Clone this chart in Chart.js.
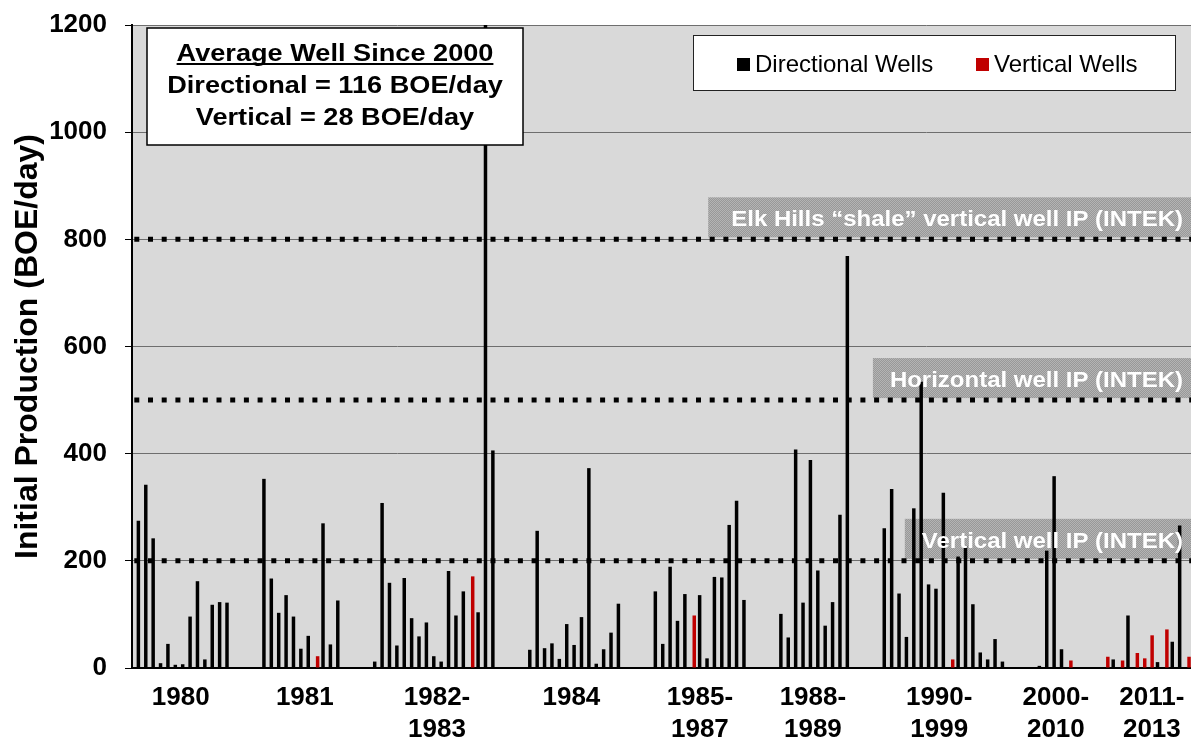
<!DOCTYPE html>
<html>
<head>
<meta charset="utf-8">
<script src="https://cdn.jsdelivr.net/npm/chart.js@4.4.1/dist/chart.umd.min.js"></script>
<style>
  html, body { margin: 0; padding: 0; background: #fff; }
</style>
</head>
<body>
<canvas id="wellChart" width="1191" height="738"></canvas>
<script>
// initial production per well, BOE/day, one slot per well (null = no directional well)
const directional = [
    275, 342, 242, 9, 45, 6, 7, 96, 162, 16, 118, 123, 122,
    null, null, null, null,
    353, 167, 103, 136, 96, 36, 60, null, 270, 44, 126,
    null, null, null, null,
    12, 308, 159, 42, 168, 93, 59, 85, 22, 12, 181, 98, 143, null, 104, 1250, 406,
    null, null, null, null,
    34, 256, 37, 46, 17, 82, 43, 95, 373, 8, 35, 66, 120,
    null, null, null, null,
    143, 45, 189, 88, 138, null, 136, 18, 170, 169, 267, 312, 127,
    null, null, null, null,
    101, 57, 408, 122, 388, 182, 79, 123, 286, 769,
    null, null, null, null,
    261, 334, 139, 58, 298, 534, 156, 148, 327, null, 208, 228, 119, 29, 16, 54, 12,
    null, null, null, null,
    4, 219, 358, 35,
    null, null, null, null, null, null,
    16, null, 98, null, null, null, 11, null, 49, 266, null
];

// vertical wells: slot and value
const verticalSlots = [24, 45, 75, 110, 126, 131, 133, 135, 136, 137, 139, 142];
const verticalIP = [22, 171, 98, 16, 14, 21, 14, 28, 18, 61, 72, 21];

// period labels, placed at the middle of each group of slots
const periodLabels = ["1980", "1981", ["1982-", "1983"], "1984", ["1985-", "1987"],
    ["1988-", "1989"], ["1990-", "1999"], ["2000-", "2010"], ["2011-", "2013"]];
const periodCenters = [5.6, 22.4, 40.3, 58.5, 75.9, 91.2, 108.3, 124.1, 137.1];

// INTEK reference IPs
const refLevels = [800, 500, 200];
const refLabels = ["Elk Hills \u201cshale\u201d vertical well IP (INTEK)", "Horizontal well IP (INTEK)", "Vertical well IP (INTEK)"];

const infoLines = ["Average Well Since 2000", "Directional = 116 BOE/day", "Vertical = 28 BOE/day"];

const xMin = -1.0, xMax = 142.4;
const FONT = '"Liberation Sans", Arial, sans-serif';
const RED = "#c00000";

function stipple(ctx) {
    const c = document.createElement("canvas");
    c.width = 2; c.height = 2;
    const g = c.getContext("2d");
    g.fillStyle = "#989898"; g.fillRect(0, 0, 2, 2);
    g.fillStyle = "#b4b4b4"; g.fillRect(0, 0, 1, 1); g.fillRect(1, 1, 1, 1);
    return ctx.createPattern(c, "repeat");
}

// text drawn a bit wider than the font, like the original
function wideText(ctx, text, x, y, sx, align) {
    const w = ctx.measureText(text).width * sx;
    let left = x;
    if (align === "center") left = x - w / 2;
    if (align === "right") left = x - w;
    ctx.save();
    ctx.textAlign = "left";
    ctx.translate(left, y);
    ctx.scale(sx, 1);
    ctx.fillText(text, 0, 0);
    ctx.restore();
    return { left, w };
}

const REF_SX = 1.09, INFO_SX = 1.18;

const decorations = {
    id: "decorations",
    beforeDraw(chart) {
        const { ctx, chartArea: a } = chart;
        ctx.save();
        ctx.fillStyle = "#d9d9d9";
        ctx.fillRect(a.left, a.top, a.right - a.left, a.bottom - a.top);
        ctx.restore();
    },
    beforeDatasetsDraw(chart) {
        // grey label boxes sitting on the reference lines
        const { ctx, chartArea: a, scales } = chart;
        ctx.save();
        ctx.font = "bold 22px " + FONT;
        ctx.fillStyle = stipple(ctx);
        refLevels.forEach((lvl, i) => {
            const y = scales.y.getPixelForValue(lvl);
            const w = ctx.measureText(refLabels[i]).width * REF_SX + 8 + (i === 0 ? 23 : 17);
            ctx.fillRect(a.right - w, y - 42, w, 40);
        });
        ctx.restore();
    },
    afterDatasetsDraw(chart) {
        const { ctx, chartArea: a, scales } = chart;
        ctx.save();
        ctx.font = "bold 22px " + FONT;
        ctx.fillStyle = "#fff";
        ctx.textBaseline = "alphabetic";
        refLevels.forEach((lvl, i) => {
            const y = scales.y.getPixelForValue(lvl);
            wideText(ctx, refLabels[i], a.right - 8, y - 13, REF_SX, "right");
        });
        ctx.restore();
    },
    afterDraw(chart) {
        const { ctx, chartArea: a } = chart;
        ctx.save();

        // summary box
        const bx = a.left + 15, by = a.top + 3, bw = 376, bh = 117;
        ctx.fillStyle = "#fff";
        ctx.fillRect(bx, by, bw, bh);
        ctx.strokeStyle = "#000";
        ctx.lineWidth = 1.5;
        ctx.strokeRect(bx, by, bw, bh);
        ctx.fillStyle = "#000";
        ctx.font = "bold 23px " + FONT;
        ctx.textBaseline = "alphabetic";
        const cx = bx + bw / 2;
        let first;
        infoLines.forEach((t, i) => {
            const r = wideText(ctx, t, cx, by + 33 + i * 32, INFO_SX, "center");
            if (i === 0) first = r;
        });
        ctx.fillRect(first.left, by + 35, first.w, 2);

        // legend
        const lx = 693, ly = 35;
        ctx.fillStyle = "#fff";
        ctx.fillRect(lx, ly, 482, 55);
        ctx.lineWidth = 1;
        ctx.strokeStyle = "#222";
        ctx.strokeRect(lx + 0.5, ly + 0.5, 482, 55);
        ctx.font = "24px " + FONT;
        ctx.textAlign = "left";
        ctx.textBaseline = "middle";
        const items = chart.data.datasets.slice(0, 2);
        const itemX = [737, 976];
        items.forEach((ds, i) => {
            ctx.fillStyle = ds.backgroundColor;
            ctx.fillRect(itemX[i], ly + 23, 13, 13);
            ctx.fillStyle = "#000";
            ctx.fillText(ds.label, itemX[i] + 18, ly + 30);
        });
        ctx.restore();
    }
};

const refDatasets = refLevels.map(lvl => ({
    type: "line",
    label: "ref " + lvl,
    data: [{ x: xMin, y: lvl }, { x: xMax, y: lvl }],
    borderColor: "#000",
    borderWidth: 5,
    borderDash: [5, 8.7],
    borderDashOffset: 11.4,
    borderCapStyle: "butt",
    pointRadius: 0,
    order: 0
}));

new Chart(document.getElementById("wellChart").getContext("2d"), {
    type: "bar",
    data: {
        datasets: [{
            label: "Directional Wells",
            data: directional.map((v, i) => ({ x: i, y: v })),
            backgroundColor: "#000",
            categoryPercentage: 0.54,
            barPercentage: 1.75,
            clip: 0,
            order: 1
        }, {
            label: "Vertical Wells",
            data: verticalSlots.map((s, i) => ({ x: s, y: verticalIP[i] })),
            backgroundColor: RED,
            categoryPercentage: 0.54,
            barPercentage: 1.75,
            clip: 0,
            order: 1
        }, ...refDatasets]
    },
    options: {
        responsive: false,
        animation: false,
        devicePixelRatio: 1,
        layout: { padding: { top: 25, right: 0, bottom: 0, left: 0 } },
        plugins: { legend: { display: false }, tooltip: { enabled: false } },
        scales: {
            x: {
                type: "linear",
                min: xMin,
                max: xMax,
                offset: false,
                afterBuildTicks: (scale) => { scale.ticks = periodCenters.map(v => ({ value: v })); },
                afterFit: (scale) => { scale.height = 70; },
                grid: { display: false, offset: false },
                border: { display: true, color: "#000", width: 2 },
                ticks: {
                    autoSkip: false,
                    maxRotation: 0,
                    minRotation: 0,
                    padding: 6,
                    color: "#000",
                    font: { family: FONT, size: 26, weight: "bold", lineHeight: 1.23 },
                    callback: (value, index) => periodLabels[index]
                }
            },
            y: {
                min: 0,
                max: 1200,
                afterFit: (scale) => {
                    scale.width = 132;
                    scale.paddingTop = 0;
                    scale.paddingBottom = 0;
                },
                grid: { color: "#6e6e6e", lineWidth: 1, tickLength: 7, tickColor: "#000" },
                border: { display: true, color: "#000", width: 2 },
                ticks: {
                    stepSize: 200,
                    padding: 18,
                    color: "#000",
                    font: { family: FONT, size: 26, weight: "bold" },
                    callback: (v) => String(v)
                },
                title: {
                    display: true,
                    text: "Initial Production (BOE/day)",
                    color: "#000",
                    padding: { top: 9, bottom: 0 },
                    font: { family: FONT, size: 32, weight: "bold" }
                }
            }
        }
    },
    plugins: [decorations]
});
</script>
</body>
</html>
